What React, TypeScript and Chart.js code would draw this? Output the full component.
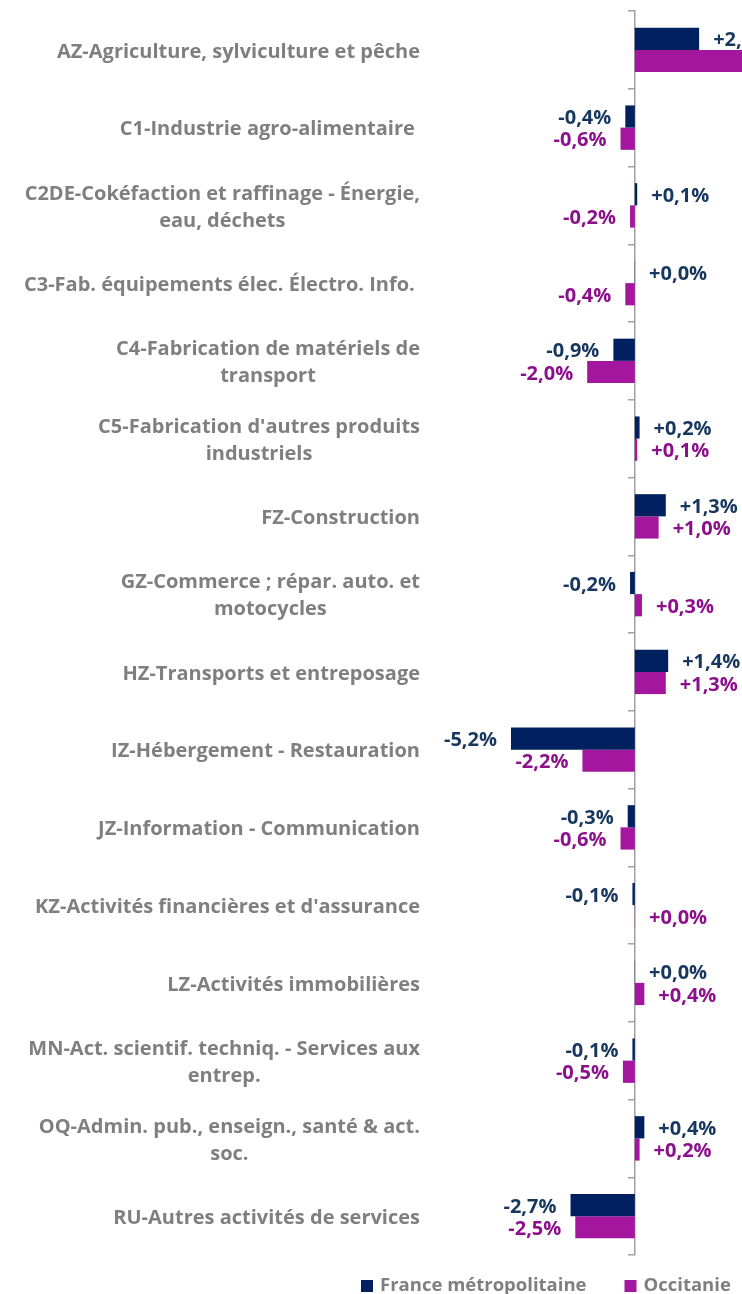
import React, { useEffect, useRef } from "react";
import { Chart, registerables } from "chart.js";
Chart.register(...registerables);

const categories: string[][] = [
  ["AZ-Agriculture, sylviculture et pêche"],
  ["C1-Industrie agro-alimentaire "],
  ["C2DE-Cokéfaction et raffinage - Énergie,", "eau, déchets"],
  ["C3-Fab. équipements élec. Électro. Info. "],
  ["C4-Fabrication de matériels de", "transport"],
  ["C5-Fabrication d'autres produits", "industriels"],
  ["FZ-Construction"],
  ["GZ-Commerce ; répar. auto. et", "motocycles"],
  ["HZ-Transports et entreposage"],
  ["IZ-Hébergement - Restauration"],
  ["JZ-Information - Communication"],
  ["KZ-Activités financières et d'assurance"],
  ["LZ-Activités immobilières"],
  ["MN-Act. scientif. techniq. - Services aux", "entrep."],
  ["OQ-Admin. pub., enseign., santé & act.", "soc."],
  ["RU-Autres activités de services"],
];

const seriesNames = ["France métropolitaine", "Occitanie"];
const franceValues = [2.7, -0.4, 0.1, 0.01, -0.9, 0.2, 1.3, -0.2, 1.4, -5.2, -0.3, -0.1, 0.01, -0.1, 0.4, -2.7];
const occitanieValues = [5.0, -0.6, -0.2, -0.4, -2.0, 0.1, 1.0, 0.3, 1.3, -2.2, -0.6, 0.01, 0.4, -0.5, 0.2, -2.5];

const X_MIN = -8.6;
const X_MAX = 4.5;

const BAR_COLORS = ["#002060", "#A4169E"];
const LABEL_COLORS = ["#17375E", "#8C0F8C"];
const GREY = "#7F7F7F";
const AXIS_GREY = "#A0A0A0";
const CAT_FONT = "bold 20px 'Open Sans'";
const LEGEND_FONT = "bold 18.5px 'Open Sans'";
const VAL_FONT = "bold 20px 'Open Sans'";

const fmt = (v: number) =>
  (v >= 0 ? "+" : "-") + Math.abs(v).toFixed(1).replace(".", ",") + "%";

const valueLabelsPlugin = {
  id: "valueLabels",
  afterDatasetsDraw(chart: any) {
    const ctx = chart.ctx;
    ctx.save();
    ctx.font = VAL_FONT;
    ctx.textBaseline = "middle";
    chart.data.datasets.forEach((ds: any, di: number) => {
      const meta = chart.getDatasetMeta(di);
      meta.data.forEach((el: any, i: number) => {
        const v = ds.data[i];
        ctx.fillStyle = LABEL_COLORS[di];
        const y = el.y + 2;
        if (v >= 0) {
          ctx.textAlign = "left";
          ctx.fillText(fmt(v), el.x + 14, y);
        } else {
          ctx.textAlign = "right";
          ctx.fillText(fmt(v), el.x - 14, y);
        }
      });
    });
    ctx.restore();
  },
};

const categoryLabelsPlugin = {
  id: "categoryLabels",
  afterDraw(chart: any) {
    const ctx = chart.ctx;
    const yScale = chart.scales.y;
    const right = 420;
    const lh = 27;
    ctx.save();
    ctx.font = CAT_FONT;
    ctx.fillStyle = GREY;
    ctx.textBaseline = "middle";
    ctx.textAlign = "center";
    (chart.data.labels as string[][]).forEach((lines, i) => {
      const cy = yScale.getPixelForValue(i) + 2;
      const maxW = Math.max(...lines.map((l) => ctx.measureText(l).width));
      const cx = right - maxW / 2;
      const y0 = cy - ((lines.length - 1) * lh) / 2;
      lines.forEach((l, k) => ctx.fillText(l, cx, y0 + k * lh));
    });
    ctx.restore();
  },
};

const legendPlugin = {
  id: "customLegend",
  afterDraw(chart: any) {
    const ctx = chart.ctx;
    ctx.save();
    ctx.font = LEGEND_FONT;
    ctx.textBaseline = "middle";
    ctx.textAlign = "left";
    let x = 361;
    const y = 1286;
    chart.data.datasets.forEach((ds: any, di: number) => {
      ctx.fillStyle = BAR_COLORS[di];
      ctx.fillRect(x, y - 6, 12, 12);
      ctx.fillStyle = GREY;
      ctx.fillText(ds.label, x + 19, y);
      x += 19 + ctx.measureText(ds.label).width + 38;
    });
    ctx.restore();
  },
};

export default function App() {
  const ref = useRef<HTMLCanvasElement | null>(null);
  useEffect(() => {
    if (!ref.current) return;
    const chart = new Chart(ref.current, {
      type: "bar",
      data: {
        labels: categories as any,
        datasets: [
          {
            label: seriesNames[0],
            data: franceValues,
            backgroundColor: BAR_COLORS[0],
            barPercentage: 1,
            categoryPercentage: 0.571,
          },
          {
            label: seriesNames[1],
            data: occitanieValues,
            backgroundColor: BAR_COLORS[1],
            barPercentage: 1,
            categoryPercentage: 0.571,
          },
        ],
      },
      options: {
        indexAxis: "y",
        responsive: false,
        animation: false,
        layout: { padding: { left: 430, right: 0, top: 11, bottom: 39 } },
        scales: {
          x: { display: false, min: X_MIN, max: X_MAX },
          y: {
            position: { x: 0 } as any,
            ticks: { display: false },
            grid: {
              drawOnChartArea: false,
              drawTicks: true,
              tickLength: 6,
              color: AXIS_GREY,
              lineWidth: 1.5,
            },
            border: { display: true, color: AXIS_GREY, width: 1.5 },
          },
        },
        plugins: { legend: { display: false }, tooltip: { enabled: false } },
      },
      plugins: [valueLabelsPlugin, categoryLabelsPlugin, legendPlugin],
    });
    return () => chart.destroy();
  }, []);
  return (
    <div style={{ position: "absolute", left: 0, top: 0, width: 742, height: 1294 }}>
      <canvas ref={ref} width={742} height={1294} style={{ width: 742, height: 1294 }} />
    </div>
  );
}
